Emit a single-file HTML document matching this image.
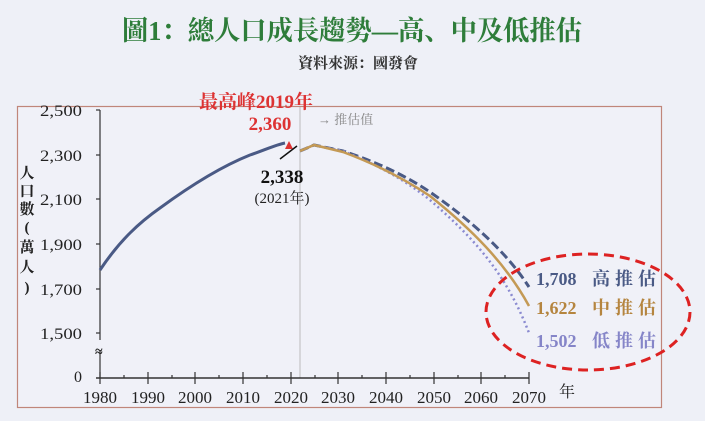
<!DOCTYPE html>
<html><head><meta charset="utf-8"><style>
body{margin:0;background:#eef0f7;width:705px;height:421px;overflow:hidden}
svg{display:block}
text{font-family:"Liberation Serif","Noto Serif CJK SC",serif}
</style></head><body>
<svg width="705" height="421" viewBox="0 0 705 421">
<rect width="705" height="421" fill="#eef0f7"/>
<text x="352" y="40" font-size="27" font-weight="bold" fill="#2e7d3a" text-anchor="middle" textLength="460" lengthAdjust="spacingAndGlyphs">圖1：總人口成長趨勢—高、中及低推估</text>
<text x="358" y="68" font-size="15" font-weight="bold" fill="#333" text-anchor="middle">資料來源：國發會</text>
<rect x="17.5" y="106.5" width="644" height="301" fill="#f0f1f8" stroke="#c0867a" stroke-width="1.2"/>
<line x1="300" y1="107" x2="300" y2="378" stroke="#bbb" stroke-width="1"/>
<text x="318" y="124" font-size="13" fill="#888">→ 推估值</text>
<g stroke="#333" stroke-width="1.2">
<line x1="100" y1="110" x2="100" y2="340"/><line x1="100" y1="350" x2="100" y2="378"/>
<line x1="96" y1="110" x2="100" y2="110"/><line x1="96" y1="155" x2="100" y2="155"/>
<line x1="96" y1="199" x2="100" y2="199"/><line x1="96" y1="244" x2="100" y2="244"/>
<line x1="96" y1="289" x2="100" y2="289"/><line x1="96" y1="333" x2="100" y2="333"/>
<line x1="96" y1="378" x2="529" y2="378" stroke-width="1.6"/>
</g>
<g stroke="#333" stroke-width="1.2">
<path d="M100 372V384M148 372V384M195 372V384M243 372V384M291 372V384M338 372V384M386 372V384M434 372V384M481 372V384M529 372V384M124 375V378M172 375V378M219 375V378M267 375V378M315 375V378M362 375V378M410 375V378M458 375V378M505 375V378"/>
</g>
<g font-size="16" fill="#222" text-anchor="end">
<text x="82" y="116" textLength="42" lengthAdjust="spacingAndGlyphs">2,500</text><text x="82" y="161" textLength="42" lengthAdjust="spacingAndGlyphs">2,300</text><text x="82" y="205" textLength="42" lengthAdjust="spacingAndGlyphs">2,100</text>
<text x="82" y="250" textLength="42" lengthAdjust="spacingAndGlyphs">1,900</text><text x="82" y="295" textLength="42" lengthAdjust="spacingAndGlyphs">1,700</text><text x="82" y="339" textLength="42" lengthAdjust="spacingAndGlyphs">1,500</text>
<text x="82" y="382">0</text>
</g>
<text x="95" y="356" font-size="14" fill="#222" font-weight="bold">≈</text>
<g font-size="17" fill="#222" text-anchor="middle">
<text x="100" y="403">1980</text><text x="148" y="403">1990</text><text x="195" y="403">2000</text><text x="243" y="403">2010</text><text x="291" y="403">2020</text><text x="338" y="403">2030</text><text x="386" y="403">2040</text><text x="434" y="403">2050</text><text x="481" y="403">2060</text><text x="529" y="403">2070</text>
</g>
<text x="567" y="397" font-size="16" fill="#222" text-anchor="middle">年</text>
<g font-size="15" font-weight="bold" fill="#222" text-anchor="middle">
<text x="27" y="178">人</text><text x="27" y="196">口</text><text x="27" y="214">數</text>
<text x="27" y="232">(</text><text x="27" y="252">萬</text><text x="27" y="272">人</text><text x="27" y="292">)</text>
</g>
<path d="M100 270 C120 240,140 222,160 208 C190 186,220 167,250 155 C265 150,275 145,285 143" fill="none" stroke="#4a5a85" stroke-width="3"/>
<path d="M300 151 L314 145 L343 151 C370 160,400 172,430 192 C470 220,505 250,529 287" fill="none" stroke="#4a5a85" stroke-width="3" stroke-dasharray="9,4"/>
<path d="M300 151 L314 145 L343 151 C370 162,400 176,430 200 C470 235,505 270,529 333" fill="none" stroke="#8a8ad0" stroke-width="2.5" stroke-dasharray="2,3"/>
<path d="M300 151 L314 145 L343 152 C370 162,400 176,430 196 C470 228,505 262,529 306" fill="none" stroke="#c49a55" stroke-width="2.5"/>
<polygon points="289,141 285,149 293,149" fill="#d33"/>
<line x1="280" y1="159" x2="297" y2="146" stroke="#111" stroke-width="1.5"/>
<text x="256" y="108" font-size="19" font-weight="bold" fill="#d33" text-anchor="middle">最高峰2019年</text>
<text x="270" y="130" font-size="19" font-weight="bold" fill="#d33" text-anchor="middle">2,360</text>
<text x="282" y="183" font-size="19" font-weight="bold" fill="#111" text-anchor="middle">2,338</text>
<text x="282" y="203" font-size="15" fill="#222" text-anchor="middle">(2021年)</text>
<ellipse cx="588" cy="312" rx="102" ry="58" fill="none" stroke="#d22" stroke-width="3" stroke-dasharray="10,6"/>
<g font-size="18" font-weight="bold">
<text x="536" y="285" fill="#4a5a85">1,708</text><text x="592" y="285" fill="#4a5a85" textLength="64">高推估</text>
<text x="536" y="314" fill="#b5853f">1,622</text><text x="592" y="314" fill="#b5853f" textLength="64">中推估</text>
<text x="536" y="347" fill="#8585c8">1,502</text><text x="592" y="347" fill="#8585c8" textLength="64">低推估</text>
</g>
</svg>
</body></html>
